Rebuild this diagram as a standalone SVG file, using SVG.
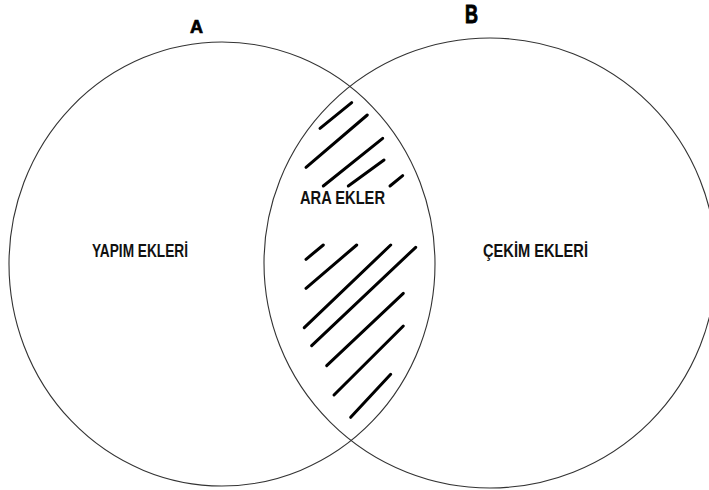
<svg xmlns="http://www.w3.org/2000/svg" width="709" height="490" viewBox="0 0 709 490">
<style>
.ring{fill:none;stroke:#333;stroke-width:1.1}
.hatch{stroke:#000;stroke-width:3;stroke-linecap:round;fill:none}
.lbl{font-family:"Liberation Sans",Arial,sans-serif;font-weight:bold;fill:#111}
.set{font-family:"Liberation Sans",Arial,sans-serif;font-weight:bold;font-size:18px;fill:#000;stroke:#000;stroke-width:0.7}
</style>
<rect width="709" height="490" fill="#fff"/>
<g id="setA">
<ellipse class="ring" cx="222" cy="264" rx="213" ry="222"/>
<text class="set" x="190" y="33">A</text>
<text class="lbl" x="92" y="257" font-size="18" textLength="96" lengthAdjust="spacingAndGlyphs">YAPIM EKLERİ</text>
</g>
<g id="setB">
<ellipse class="ring" cx="490" cy="263" rx="226" ry="225"/>
<text class="set" x="465" y="23" transform="translate(465 23) scale(1 1.38) translate(-465 -23)">B</text>
<text class="lbl" x="483" y="257" font-size="18" textLength="105" lengthAdjust="spacingAndGlyphs">ÇEKİM EKLERİ</text>
</g>
<g id="intersection">
<g class="hatch">
<line x1="320" y1="128.3" x2="351.7" y2="102.7"/>
<line x1="306" y1="167.3" x2="367.3" y2="115"/>
<line x1="323.3" y1="186" x2="382.7" y2="138.3"/>
<line x1="348.3" y1="186" x2="384" y2="160"/>
<line x1="390" y1="186" x2="402.7" y2="175.7"/>
<line x1="306" y1="259.3" x2="323.3" y2="245"/>
<line x1="306" y1="288.3" x2="356.7" y2="245"/>
<line x1="304.3" y1="327.7" x2="390.7" y2="245"/>
<line x1="311.7" y1="345.7" x2="415.7" y2="247.3"/>
<line x1="326.7" y1="365.7" x2="403.3" y2="293.3"/>
<line x1="334" y1="395" x2="403.3" y2="326"/>
<line x1="350.7" y1="417.3" x2="390.7" y2="374.3"/>
</g>
<text class="lbl" x="300" y="204" font-size="18" textLength="85" lengthAdjust="spacingAndGlyphs">ARA EKLER</text>
</g>
</svg>
